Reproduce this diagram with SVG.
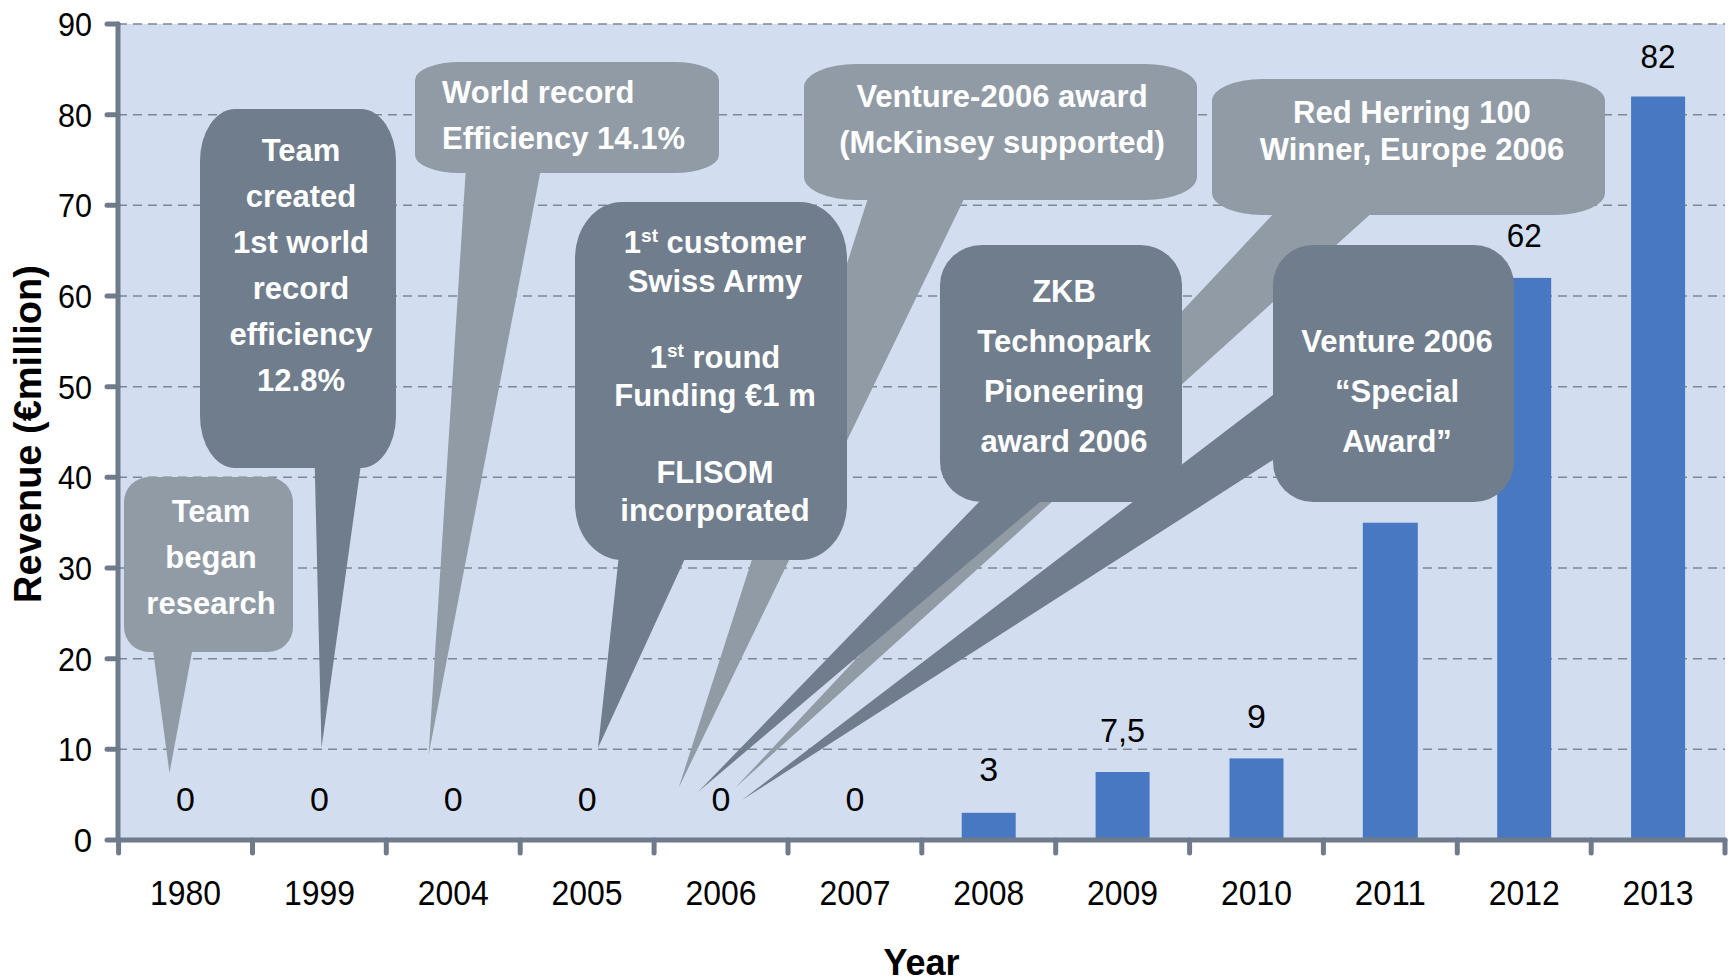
<svg xmlns="http://www.w3.org/2000/svg" width="1730" height="980" viewBox="0 0 1730 980">
<style>
.grid{stroke:#7E8894;stroke-width:1.4;stroke-dasharray:9 6;fill:none}
.axis{stroke:#6F7B8B;stroke-width:5;stroke-linecap:round;fill:none}
.bar{fill:#4878C2}
.num{font-family:"Liberation Sans",Arial,sans-serif;font-size:34px;fill:#000}
.yl{font-family:"Liberation Sans",Arial,sans-serif;font-size:33px;fill:#000;text-anchor:end}
.xl{font-family:"Liberation Sans",Arial,sans-serif;font-size:35px;fill:#000;text-anchor:middle}
.title{font-family:"Liberation Sans",Arial,sans-serif;font-weight:bold;fill:#000;text-anchor:middle}
.dark{fill:#707D8C}
.light{fill:#919BA6}
.ct{font-family:"Liberation Sans",Arial,sans-serif;font-weight:bold;font-size:31px;fill:#fff;text-anchor:middle}
.ctl{font-family:"Liberation Sans",Arial,sans-serif;font-weight:bold;font-size:31px;fill:#fff}
.sup{font-size:19px}
</style>
<rect x="0" y="0" width="1730" height="980" fill="#fff"/>
<rect x="118" y="24" width="1607" height="816" fill="#D2DEEF"/>
<g id="gridlines">
<line class="grid" x1="118" y1="24" x2="1725" y2="24"/>
<line class="grid" x1="118" y1="114.7" x2="1725" y2="114.7"/>
<line class="grid" x1="118" y1="205.3" x2="1725" y2="205.3"/>
<line class="grid" x1="118" y1="296" x2="1725" y2="296"/>
<line class="grid" x1="118" y1="386.7" x2="1725" y2="386.7"/>
<line class="grid" x1="118" y1="477.3" x2="1725" y2="477.3"/>
<line class="grid" x1="118" y1="568" x2="1725" y2="568"/>
<line class="grid" x1="118" y1="658.7" x2="1725" y2="658.7"/>
<line class="grid" x1="118" y1="749.3" x2="1725" y2="749.3"/>
</g>
<g id="bars">
<rect class="bar" x="961.7" y="812.8" width="54" height="27.2"/>
<rect class="bar" x="1095.6" y="772" width="54" height="68"/>
<rect class="bar" x="1229.5" y="758.4" width="54" height="81.6"/>
<rect class="bar" x="1362.8" y="522.7" width="55" height="317.3"/>
<rect class="bar" x="1497.2" y="277.9" width="54" height="562.1"/>
<rect class="bar" x="1631.1" y="96.5" width="54" height="743.5"/>
</g>
<g id="axes">
<line class="axis" x1="118" y1="24" x2="118" y2="840"/>
<line class="axis" x1="118" y1="840" x2="1725" y2="840"/>
<path class="axis" d="M107 24H118M107 114.7H118M107 205.3H118M107 296H118M107 386.7H118M107 477.3H118M107 568H118M107 658.7H118M107 749.3H118M107 840H118"/>
<path class="axis" d="M118.6 840V853M252.5 840V853M386.3 840V853M520.2 840V853M654.1 840V853M788 840V853M921.8 840V853M1055.7 840V853M1189.6 840V853M1323.4 840V853M1457.3 840V853M1591.2 840V853M1725 840V853"/>
</g>
<g id="y-labels">
<text class="yl" x="92" y="36" textLength="34" lengthAdjust="spacingAndGlyphs">90</text>
<text class="yl" x="92" y="126.7" textLength="34" lengthAdjust="spacingAndGlyphs">80</text>
<text class="yl" x="92" y="217.3" textLength="34" lengthAdjust="spacingAndGlyphs">70</text>
<text class="yl" x="92" y="308" textLength="34" lengthAdjust="spacingAndGlyphs">60</text>
<text class="yl" x="92" y="398.7" textLength="34" lengthAdjust="spacingAndGlyphs">50</text>
<text class="yl" x="92" y="489.3" textLength="34" lengthAdjust="spacingAndGlyphs">40</text>
<text class="yl" x="92" y="580" textLength="34" lengthAdjust="spacingAndGlyphs">30</text>
<text class="yl" x="92" y="670.7" textLength="34" lengthAdjust="spacingAndGlyphs">20</text>
<text class="yl" x="92" y="761.3" textLength="34" lengthAdjust="spacingAndGlyphs">10</text>
<text class="yl" x="92" y="852">0</text>
</g>
<g id="x-labels">
<text class="xl" x="185.5" y="905" textLength="71" lengthAdjust="spacingAndGlyphs">1980</text>
<text class="xl" x="319.4" y="905" textLength="71" lengthAdjust="spacingAndGlyphs">1999</text>
<text class="xl" x="453.2" y="905" textLength="71" lengthAdjust="spacingAndGlyphs">2004</text>
<text class="xl" x="587.1" y="905" textLength="71" lengthAdjust="spacingAndGlyphs">2005</text>
<text class="xl" x="721" y="905" textLength="71" lengthAdjust="spacingAndGlyphs">2006</text>
<text class="xl" x="854.9" y="905" textLength="71" lengthAdjust="spacingAndGlyphs">2007</text>
<text class="xl" x="988.7" y="905" textLength="71" lengthAdjust="spacingAndGlyphs">2008</text>
<text class="xl" x="1122.6" y="905" textLength="71" lengthAdjust="spacingAndGlyphs">2009</text>
<text class="xl" x="1256.5" y="905" textLength="71" lengthAdjust="spacingAndGlyphs">2010</text>
<text class="xl" x="1390.3" y="905" textLength="71" lengthAdjust="spacingAndGlyphs">2011</text>
<text class="xl" x="1524.2" y="905" textLength="71" lengthAdjust="spacingAndGlyphs">2012</text>
<text class="xl" x="1658.1" y="905" textLength="71" lengthAdjust="spacingAndGlyphs">2013</text>
</g>
<g id="value-labels" text-anchor="middle">
<text class="num" x="185.5" y="811">0</text>
<text class="num" x="319.4" y="811">0</text>
<text class="num" x="453.2" y="811">0</text>
<text class="num" x="587.1" y="811">0</text>
<text class="num" x="721" y="811">0</text>
<text class="num" x="854.9" y="811">0</text>
<text class="num" x="988.7" y="781">3</text>
<text class="num" x="1122.6" y="742" textLength="45" lengthAdjust="spacingAndGlyphs">7,5</text>
<text class="num" x="1256.5" y="727.5">9</text>
<text class="num" x="1524.2" y="247" textLength="35" lengthAdjust="spacingAndGlyphs">62</text>
<text class="num" x="1658.1" y="68" textLength="35" lengthAdjust="spacingAndGlyphs">82</text>
</g>
<text class="title" font-size="38" transform="translate(41,434) rotate(-90)">Revenue (€million)</text>
<text class="title" font-size="36" x="921.6" y="975">Year</text>
<g id="callout-team-began" class="light">
<rect x="124" y="477" width="169" height="175" rx="25" ry="25"/>
<polygon points="152.3,645 193.3,645 169.5,773"/>
<text class="ct" x="211" y="522">Team</text>
<text class="ct" x="211" y="568">began</text>
<text class="ct" x="211" y="614">research</text>
</g>
<g id="callout-world-record" class="light">
<rect x="415" y="62" width="304" height="111" rx="45" ry="18"/>
<polygon points="466,166 541.5,166 428.6,755"/>
<text class="ctl" x="442" y="103">World record</text>
<text class="ctl" x="442" y="149">Efficiency 14.1%</text>
</g>
<g id="callout-team-created" class="dark">
<rect x="200" y="109" width="196" height="359" rx="35" ry="52"/>
<polygon points="314.6,460 361.6,460 321.5,748"/>
<text class="ct" x="301" y="161">Team</text>
<text class="ct" x="301" y="207">created</text>
<text class="ct" x="301" y="253">1st world</text>
<text class="ct" x="301" y="298.5">record</text>
<text class="ct" x="301" y="344.5">efficiency</text>
<text class="ct" x="301" y="390.5">12.8%</text>
</g>
<g id="callout-venture-2006-award" class="light">
<rect x="804" y="64" width="393" height="136" rx="52" ry="23"/>
<polygon points="869,195 966,195 678.6,788"/>
<text class="ct" x="1002" y="107">Venture-2006 award</text>
<text class="ct" x="1002" y="153">(McKinsey supported)</text>
</g>
<g id="callout-first-customer" class="dark">
<rect x="575" y="202" width="272" height="358" rx="47" ry="56"/>
<polygon points="619.3,552 688,552 598,748"/>
<text class="ct" x="715" y="253.3">1<tspan class="sup" dy="-11">st</tspan><tspan dy="11"> customer</tspan></text>
<text class="ct" x="715" y="291.5">Swiss Army</text>
<text class="ct" x="715" y="368">1<tspan class="sup" dy="-11">st</tspan><tspan dy="11"> round</tspan></text>
<text class="ct" x="715" y="406">Funding €1 m</text>
<text class="ct" x="715" y="482.6">FLISOM</text>
<text class="ct" x="715" y="520.8">incorporated</text>
</g>
<g id="callout-red-herring" class="light">
<rect x="1212" y="79" width="393" height="136" rx="50" ry="22"/>
<polygon points="1277,210 1375,210 735,788"/>
<text class="ct" x="1412" y="123.3">Red Herring 100</text>
<text class="ct" x="1412" y="160">Winner, Europe 2006</text>
</g>
<g id="callout-zkb" class="dark">
<rect x="940" y="245" width="242" height="257" rx="42" ry="40"/>
<polygon points="990.6,490 1054,490 698,792"/>
<text class="ct" x="1064" y="302">ZKB</text>
<text class="ct" x="1064" y="352">Technopark</text>
<text class="ct" x="1064" y="402">Pioneering</text>
<text class="ct" x="1064" y="452">award 2006</text>
</g>
<g id="callout-special-award" class="dark">
<rect x="1273" y="245" width="241" height="257" rx="40" ry="40"/>
<polygon points="1285,385.8 1285,452.3 742,800"/>
<text class="ct" x="1397" y="352">Venture 2006</text>
<text class="ct" x="1397" y="402">“Special</text>
<text class="ct" x="1397" y="452">Award”</text>
</g>
</svg>
